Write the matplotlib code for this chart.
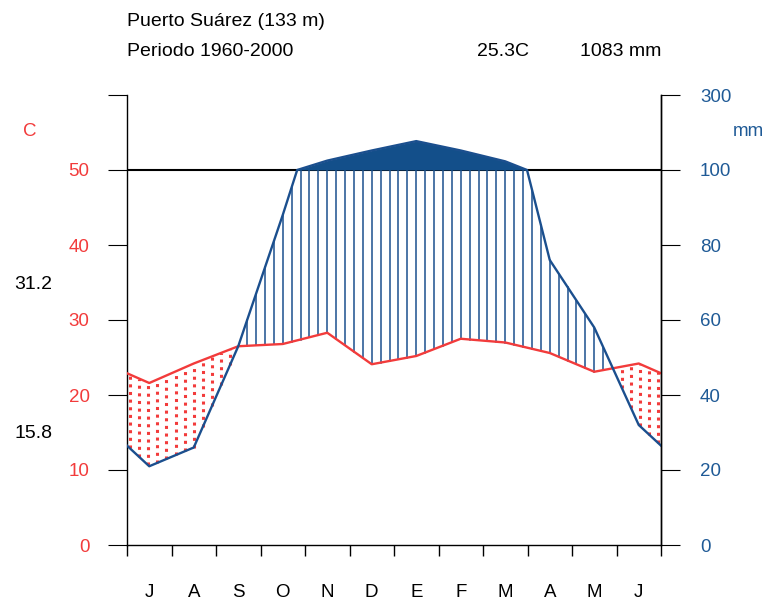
import numpy as np
import matplotlib
matplotlib.use('Agg')
import matplotlib.pyplot as plt

plt.rcParams['font.family'] = ['Liberation Sans', 'DejaVu Sans']

months = ['J', 'A', 'S', 'O', 'N', 'D', 'E', 'F', 'M', 'A', 'M', 'J']
temp = [21.6, 24.2, 26.5, 26.8, 28.3, 24.1, 25.2, 27.5, 27.0, 25.6, 23.1, 24.2]
prec = [21, 26, 53, 88, 125, 152, 177, 152, 123, 76, 58, 32]
left_ticks = [0, 10, 20, 30, 40, 50, 60]
left_labels = ['0', '10', '20', '30', '40', '50', '']
right_labels = ['0', '20', '40', '60', '80', '100', '300']
station = 'Puerto Suárez (133 m)'
period = 'Periodo 1960-2000'
mean_t = '25.3C'
total_p = '1083 mm'
tmax_abs = '31.2'
tmin_abs = '15.8'

RED = '#f23b3b'
BLUE = '#1b4f8e'
DARK = '#134f8a'
LBLUE = '#1f5a96'

t = np.array(temp, float)
p = np.array(prec, float)
x = np.concatenate([[0], np.arange(12) + 0.5, [12]])
tx = np.concatenate([[(t[0] + t[-1]) / 2], t, [(t[0] + t[-1]) / 2]])
px = np.concatenate([[(p[0] + p[-1]) / 2], p, [(p[0] + p[-1]) / 2]])

# insert crossings at 100 mm (interpolated on real values)
xs = [x[0]]
ps = [px[0]]
for i in range(len(x) - 1):
    a, b = px[i], px[i + 1]
    if (a - 100) * (b - 100) < 0:
        f = (100 - a) / (b - a)
        xs.append(x[i] + f * (x[i + 1] - x[i]))
        ps.append(100.0)
    xs.append(x[i + 1])
    ps.append(b)
xs = np.array(xs)
ps = np.array(ps)
disp = np.where(ps > 100, 100 + (ps - 100) * 0.1, ps) / 2.0  # in temperature units

fig = plt.figure(figsize=(7.74, 6), dpi=100)
ax = fig.add_axes([127 / 774, 55 / 600, 534 / 774, 450 / 600])
ax.set_xlim(0, 12)
ax.set_ylim(0, 60)

# wet hatching
for xv in np.arange(0.1, 12, 0.2):
    tv = np.interp(xv, x, tx)
    pv = np.interp(xv, xs, disp)
    if pv > tv:
        ax.plot([xv, xv], [tv, min(pv, 50)], color=BLUE, lw=1.1, zorder=2)
# dry dotting
for xv in np.arange(0.067, 12, 0.2047):
    tv = np.interp(xv, x, tx)
    pv = np.interp(xv, xs, disp)
    if pv < tv:
        ax.plot([xv, xv], [pv, tv], color=RED, lw=2.2, linestyle=(0, (1.0, 1.5)), zorder=2)

ax.axhline(50, color='black', lw=1.5, zorder=1)
ax.fill_between(xs, 50, disp, where=disp >= 50, color=DARK, interpolate=True, lw=0, zorder=3)
ax.plot(x, tx, color=RED, lw=1.7, zorder=4)
ax.plot(xs, disp, color=BLUE, lw=1.7, zorder=5)

ax.spines['top'].set_visible(False)
for s in ['left', 'right', 'bottom']:
    ax.spines[s].set_linewidth(1.0)

ax.set_yticks(left_ticks)
ax.set_yticklabels(left_labels)
ax.tick_params(axis='y', direction='out', length=14, width=0.8, pad=13,
               labelcolor=RED, labelsize=13.5)

ax.set_xticks(np.arange(0, 13))
ax.set_xticklabels([])
ax.set_xticks(np.arange(12) + 0.5, minor=True)
ax.set_xticklabels(months, minor=True)
ax.tick_params(axis='x', which='major', direction='out', length=8, width=1.0)
ax.tick_params(axis='x', which='minor', length=0, pad=28, labelsize=13.5)

ax2 = ax.twinx()
ax2.set_ylim(0, 60)
ax2.set_yticks(left_ticks)
ax2.set_yticklabels(right_labels)
ax2.tick_params(axis='y', direction='out', length=14, width=0.8, pad=14,
                labelcolor=LBLUE, labelsize=13.5)
ax2.spines['top'].set_visible(False)
ax2.spines['left'].set_visible(False)
ax2.spines['bottom'].set_visible(False)
ax2.spines['right'].set_linewidth(1.0)

fs = 14
fig.text(127 / 774, 1 - 21 / 600, station, fontsize=fs, va='center', ha='left')
fig.text(127 / 774, 1 - 51 / 600, period, fontsize=fs, va='center', ha='left')
fig.text(477 / 774, 1 - 51 / 600, mean_t, fontsize=fs, va='center', ha='left')
fig.text(580 / 774, 1 - 51 / 600, total_p, fontsize=fs, va='center', ha='left')
fig.text(30 / 774, 1 - 132 / 600, 'C', fontsize=13.5, color=RED, va='center', ha='center')
fig.text(748 / 774, 1 - 132 / 600, 'mm', fontsize=13.5, color=LBLUE, va='center', ha='center')
fig.text(33 / 774, 1 - 284 / 600, tmax_abs, fontsize=14, va='center', ha='center')
fig.text(33 / 774, 1 - 434 / 600, tmin_abs, fontsize=14, va='center', ha='center')

fig.savefig('out.png', dpi=100)
